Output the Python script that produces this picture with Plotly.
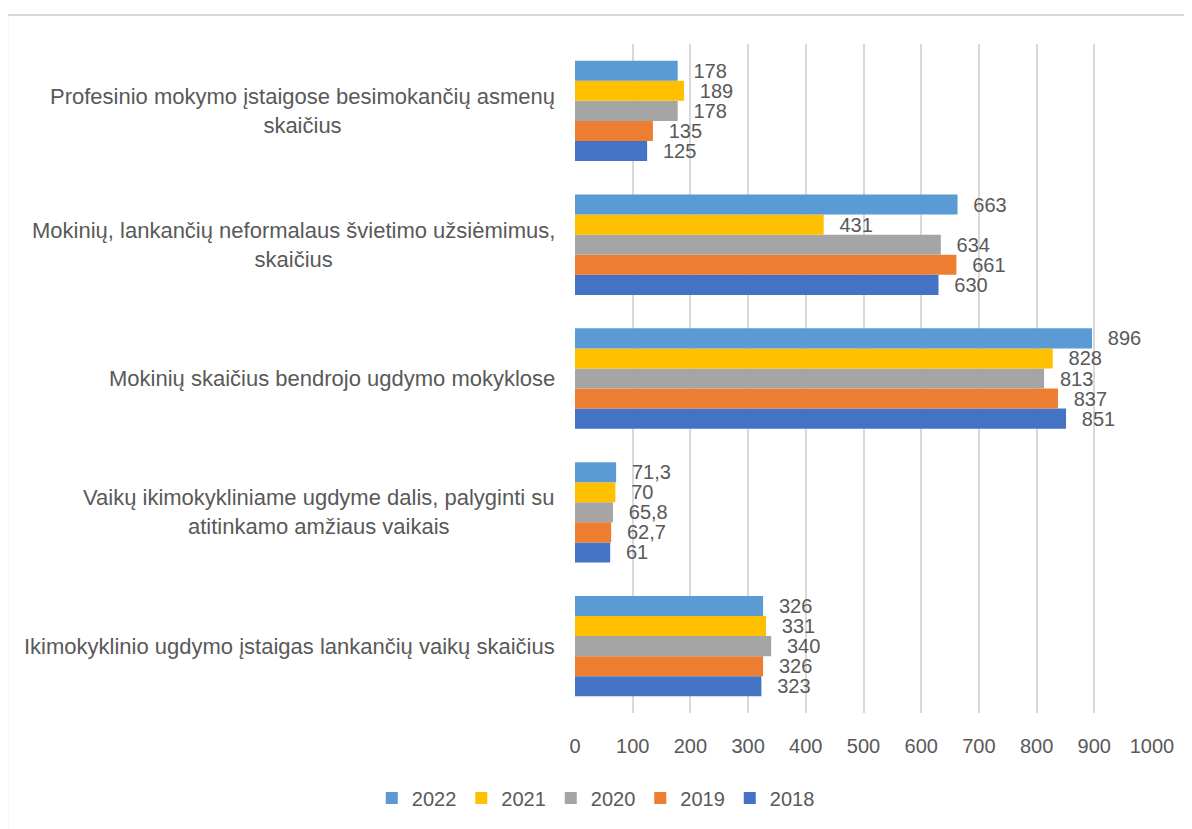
import plotly.graph_objects as go

categories = [
    "Ikimokyklinio ugdymo įstaigas lankančių vaikų skaičius",
    "Vaikų ikimokykliniame ugdyme dalis, palyginti su<br>atitinkamo amžiaus vaikais",
    "Mokinių skaičius bendrojo ugdymo mokyklose",
    "Mokinių, lankančių neformalaus švietimo užsiėmimus,<br>skaičius",
    "Profesinio mokymo įstaigose besimokančių asmenų<br>skaičius",
]
years = ["2018", "2019", "2020", "2021", "2022"]
values = {
    "2018": [323, 61, 851, 630, 125],
    "2019": [326, 62.7, 837, 661, 135],
    "2020": [340, 65.8, 813, 634, 178],
    "2021": [331, 70, 828, 431, 189],
    "2022": [326, 71.3, 896, 663, 178],
}
colors = {
    "2018": "#4472C4",
    "2019": "#ED7D31",
    "2020": "#A5A5A5",
    "2021": "#FFC000",
    "2022": "#5B9BD5",
}
x_ticks = list(range(0, 1001, 100))

FONT = "Liberation Sans"
TXT = "#595959"

def fmt(v):
    s = ("%g" % v).replace(".", ",")
    return "\u00a0\u00a0\u200a" + s

fig = go.Figure()
for yr in years:
    fig.add_trace(go.Bar(
        y=categories, x=values[yr], name=yr, orientation="h",
        marker=dict(color=colors[yr], line=dict(width=0)),
        text=[fmt(v) for v in values[yr]], textposition="outside",
        textfont=dict(family=FONT, size=20, color=TXT),
        constraintext="none", cliponaxis=False,
    ))

for c in categories:
    fig.add_annotation(
        x=0, xref="paper", y=c, yref="y", text=c, showarrow=False,
        xanchor="right", align="center", xshift=-18,
        font=dict(family=FONT, size=22, color=TXT),
    )

fig.add_shape(type="rect", xref="paper", yref="paper",
              x0=-0.984, x1=1.2, y0=-0.3, y1=1.0433,
              line=dict(color="#D9D9D9", width=2), fillcolor="rgba(0,0,0,0)", layer="below")

fig.update_layout(
    width=1184, height=821,
    margin=dict(l=567, r=40, t=36, b=116),
    paper_bgcolor="white", plot_bgcolor="white",
    barmode="group", bargap=0.25, bargroupgap=0,
    font=dict(family=FONT, size=20, color=TXT),
    showlegend=True,
    legend=dict(orientation="h", traceorder="reversed", x=0.036, xanchor="center",
                y=-0.127, yanchor="middle", font=dict(family=FONT, size=20, color=TXT),
                itemwidth=30),
    xaxis=dict(range=[0, 1000], tickvals=x_ticks, showgrid=True, gridcolor="#D9D9D9",
               gridwidth=1.5, zeroline=False, showline=False, ticks="",
               ticklabelstandoff=19, tickfont=dict(family=FONT, size=20, color=TXT)),
    yaxis=dict(categoryorder="array", categoryarray=categories, showticklabels=False,
               showgrid=False, zeroline=False, showline=False, ticks="",
               range=[-0.5, 4.5]),
)

fig.write_html("out.html")
